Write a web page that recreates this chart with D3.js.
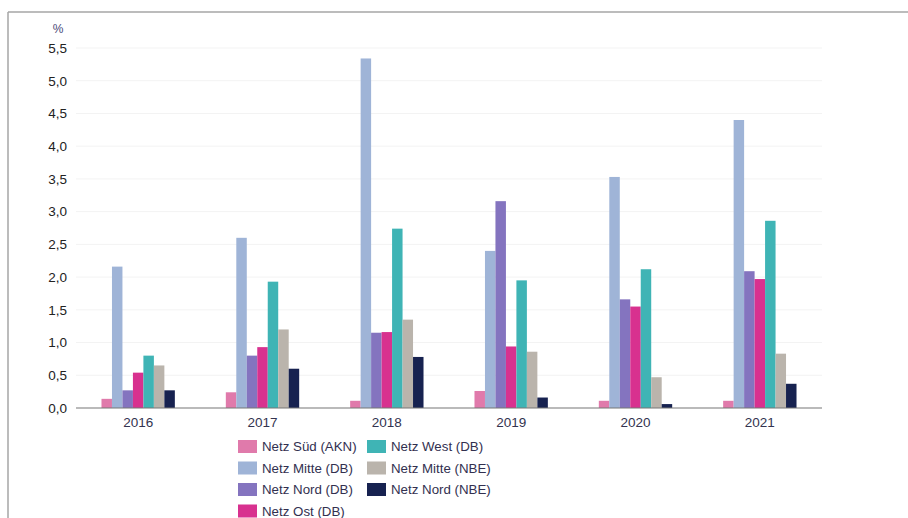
<!DOCTYPE html>
<html>
<head>
<meta charset="utf-8">
<script src="https://cdn.jsdelivr.net/npm/d3@7"></script>
<style>
  html, body { margin: 0; padding: 0; background: #fff; }
  svg { display: block; font-family: "Liberation Sans", Arial, sans-serif; }
</style>
</head>
<body>
<svg id="chart" width="908" height="518"></svg>
<script>
// Years on the x axis
const years = ["2016", "2017", "2018", "2019", "2020", "2021"];

// Networks (series) and their colours
const seriesNames = [
  "Netz Süd (AKN)", "Netz Mitte (DB)", "Netz Nord (DB)", "Netz Ost (DB)",
  "Netz West (DB)", "Netz Mitte (NBE)", "Netz Nord (NBE)"
];
const seriesColors = ["#e07aab", "#9fb4d7", "#8474bf", "#d8318f", "#3fb4b5", "#bab4ac", "#172250"];

// Values in percent, one array per network, ordered by year
const suedAKN  = [0.14, 0.24, 0.11, 0.26, 0.11, 0.11];
const mitteDB  = [2.16, 2.60, 5.34, 2.40, 3.53, 4.40];
const nordDB   = [0.27, 0.80, 1.15, 3.16, 1.66, 2.09];
const ostDB    = [0.54, 0.93, 1.16, 0.94, 1.55, 1.97];
const westDB   = [0.80, 1.93, 2.74, 1.95, 2.12, 2.86];
const mitteNBE = [0.65, 1.20, 1.35, 0.86, 0.47, 0.83];
const nordNBE  = [0.27, 0.60, 0.78, 0.16, 0.06, 0.37];
const seriesValues = [suedAKN, mitteDB, nordDB, ostDB, westDB, mitteNBE, nordNBE];

// Y axis ticks
const yTicks = [0, 0.5, 1.0, 1.5, 2.0, 2.5, 3.0, 3.5, 4.0, 4.5, 5.0, 5.5];

const svg = d3.select("#chart");

// Frame lines (top and left)
svg.append("line").attr("x1", 8).attr("x2", 908).attr("y1", 12).attr("y2", 12)
  .attr("stroke", "#a6a6a6").attr("stroke-width", 1.5);
svg.append("line").attr("x1", 8).attr("x2", 8).attr("y1", 12).attr("y2", 518)
  .attr("stroke", "#a6a6a6").attr("stroke-width", 1.5);

const plot = { left: 76, right: 822, top: 48, bottom: 408 };

const x = d3.scaleBand().domain(years).range([plot.left, plot.right]).paddingInner(0.41).paddingOuter(0.205);
const xInner = d3.scaleBand().domain(d3.range(seriesNames.length)).range([0, x.bandwidth()]).padding(0);
const y = d3.scaleLinear().domain([0, 5.5]).range([plot.bottom, plot.top]);

const fmt = d3.format(".1f");
const deFmt = v => fmt(v).replace(".", ",");

// Gridlines
svg.append("g")
  .selectAll("line")
  .data(yTicks.filter(t => t > 0))
  .join("line")
  .attr("x1", plot.left).attr("x2", plot.right)
  .attr("y1", d => y(d)).attr("y2", d => y(d))
  .attr("stroke", "#f3f3f3").attr("stroke-width", 1);

// Y axis labels
const yAxis = svg.append("g")
  .attr("transform", `translate(${plot.left - 9},0)`)
  .call(d3.axisLeft(y).tickValues(yTicks).tickFormat(deFmt).tickSize(0).tickPadding(0));
yAxis.select(".domain").remove();
yAxis.selectAll("text")
  .attr("font-size", 13.5).attr("fill", "#222222")
  .attr("font-family", "Liberation Sans, Arial, sans-serif");

// Unit label
svg.append("text").attr("x", 58).attr("y", 33).attr("text-anchor", "middle")
  .attr("font-size", 12).attr("fill", "#4a4a78").text("%");

// Bars
const groups = svg.append("g").selectAll("g")
  .data(years)
  .join("g")
  .attr("transform", d => `translate(${x(d)},0)`);

groups.selectAll("rect")
  .data((yr, i) => seriesValues.map((vals, s) => ({ s, v: vals[i] })))
  .join("rect")
  .attr("x", d => xInner(d.s))
  .attr("width", xInner.bandwidth())
  .attr("y", d => y(d.v))
  .attr("height", d => y(0) - y(d.v))
  .attr("fill", d => seriesColors[d.s]);

// X axis
const xAxis = svg.append("g")
  .attr("transform", `translate(0,${plot.bottom})`)
  .call(d3.axisBottom(x).tickSize(0).tickPadding(9));
xAxis.select(".domain").attr("stroke", "#777").attr("stroke-width", 1.2)
  .attr("d", `M${plot.left},0H${plot.right}`);
xAxis.selectAll("text")
  .attr("font-size", 13.5).attr("fill", "#33334f")
  .attr("font-family", "Liberation Sans, Arial, sans-serif");

// Legend: two columns, filled column by column
const legendCols = [[0, 1, 2, 3], [4, 5, 6]];
const legend = svg.append("g");
legendCols.forEach((col, ci) => {
  col.forEach((s, ri) => {
    const lx = 238 + ci * 129;
    const ly = 440 + ri * 21.5;
    legend.append("rect").attr("x", lx).attr("y", ly).attr("width", 19).attr("height", 13)
      .attr("fill", seriesColors[s]);
    legend.append("text").attr("x", lx + 24).attr("y", ly + 11)
      .attr("font-size", 13.3).attr("fill", "#32304f").text(seriesNames[s]);
  });
});
</script>
</body>
</html>
